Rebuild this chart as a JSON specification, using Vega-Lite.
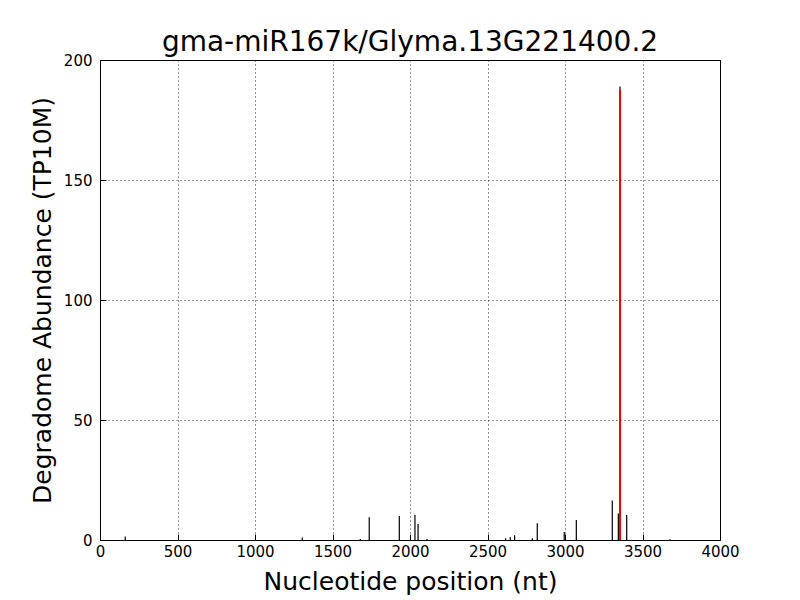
{
  "$schema": "https://vega.github.io/schema/vega-lite/v6.json",
  "width": 620,
  "height": 480,
  "autosize": {"type": "none"},
  "padding": {"left": 100, "top": 60, "right": 80, "bottom": 60},
  "background": "white",
  "title": {"text": "gma-miR167k/Glyma.13G221400.2", "font": "DejaVu Sans", "fontSize": 28, "fontWeight": "normal", "color": "black", "offset": -4},
  "config": {
    "view": {"stroke": "black", "strokeWidth": 1},
    "axis": {
      "labelFont": "DejaVu Sans", "labelFontSize": 15, "labelColor": "black", "labelFlush": false,
      "titleFont": "DejaVu Sans", "titleFontSize": 25, "titleFontWeight": "normal", "titleColor": "black",
      "grid": true, "gridColor": "black", "gridDash": [1, 3], "gridOpacity": 1, "gridWidth": 0.8,
      "domain": false, "tickColor": "black", "tickSize": -6, "labelPadding": 12
    }
  },
  "datasets": {
    "reads": [
      {"pos": 163, "abundance": 1.5},
      {"pos": 1305, "abundance": 1},
      {"pos": 1679, "abundance": 0.4},
      {"pos": 1737, "abundance": 9.5},
      {"pos": 1931, "abundance": 10},
      {"pos": 2032, "abundance": 10.4},
      {"pos": 2052, "abundance": 6.7},
      {"pos": 2110, "abundance": 0.4},
      {"pos": 2617, "abundance": 0.7},
      {"pos": 2647, "abundance": 1.1},
      {"pos": 2675, "abundance": 2},
      {"pos": 2789, "abundance": 0.7},
      {"pos": 2821, "abundance": 7},
      {"pos": 2995, "abundance": 3.3},
      {"pos": 3073, "abundance": 8.3},
      {"pos": 3305, "abundance": 16.5},
      {"pos": 3344, "abundance": 11},
      {"pos": 3352, "abundance": 25},
      {"pos": 3355, "abundance": 189},
      {"pos": 3398, "abundance": 10.4},
      {"pos": 3677, "abundance": 0.3}
    ],
    "site": [
      {"pos": 3355, "abundance": 187.5}
    ]
  },
  "layer": [
    {
      "data": {"name": "reads"},
      "mark": {"type": "rule", "color": "black", "strokeWidth": 1.2},
      "encoding": {
        "x": {"field": "pos", "type": "quantitative", "scale": {"domain": [0, 4000], "nice": false}, "axis": {"values": [0, 500, 1000, 1500, 2000, 2500, 3000, 3500, 4000], "format": "d", "title": "Nucleotide position (nt)", "titlePadding": 10, "labelPadding": 10}},
        "y": {"field": "abundance", "type": "quantitative", "scale": {"domain": [0, 200], "nice": false}, "axis": {"values": [0, 50, 100, 150, 200], "format": "d", "title": "Degradome Abundance (TP10M)", "titlePadding": 8, "labelPadding": 14}},
        "y2": {"datum": 0}
      }
    },
    {
      "data": {"name": "site"},
      "mark": {"type": "rule", "color": "#ff0000", "strokeWidth": 2},
      "encoding": {
        "x": {"field": "pos", "type": "quantitative"},
        "y": {"field": "abundance", "type": "quantitative"},
        "y2": {"datum": 0}
      }
    }
  ]
}
